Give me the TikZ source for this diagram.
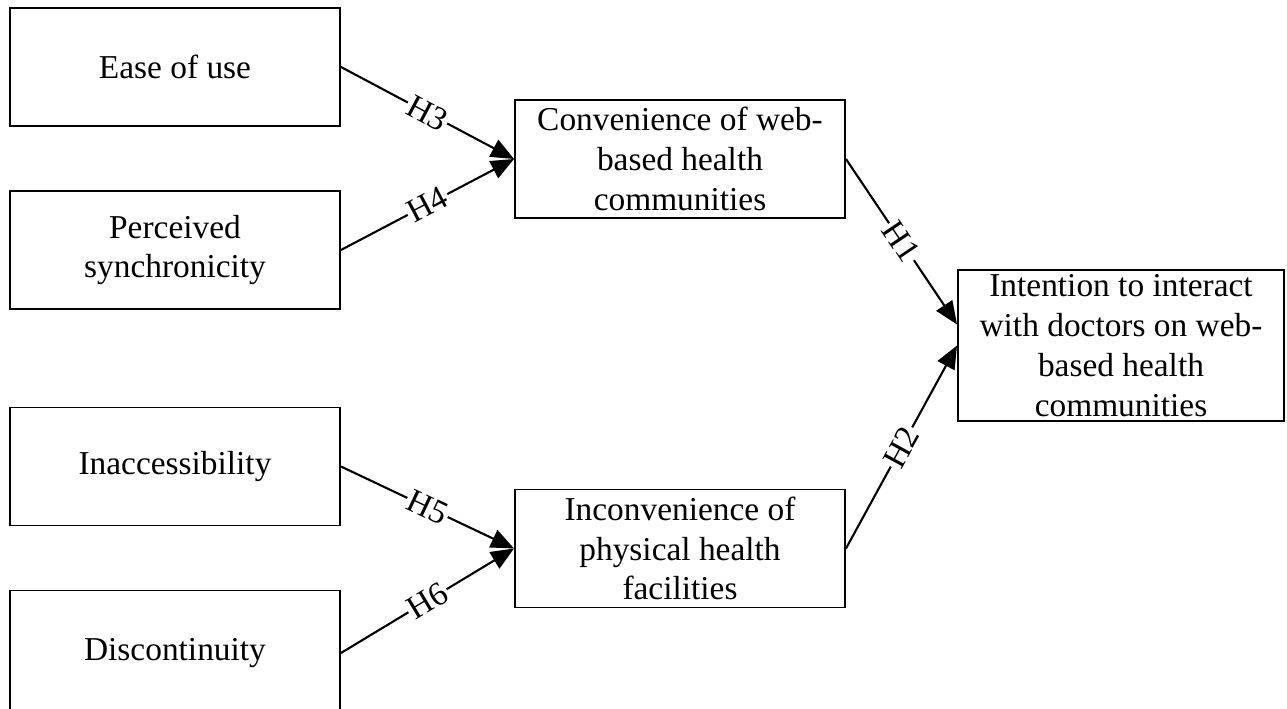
\documentclass[tikz,border=0pt]{standalone}
\usepackage{fontspec}
\setmainfont{Liberation Serif}
\usetikzlibrary{arrows.meta}

\begin{document}
\begin{tikzpicture}[
    box/.style={draw, line width=1.1pt, minimum width=6.6cm, minimum height=2.36cm, align=center, inner sep=2pt, font=\fontsize{19}{22.7}\selectfont},
    hyp/.style={fill=white, inner sep=1pt, sloped, font=\fontsize{19}{22.7}\selectfont},
    link/.style={line width=1.2pt, -{Triangle[length=0.46cm, width=0.38cm]}},
]
\useasboundingbox (0,0) rectangle (25.74,14.18);

% antecedents
\node[box] (ease) at (3.5,12.84) {Ease of use};
\node[box] (sync) at (3.5,9.18) {Perceived\\synchronicity};
\node[box] (inacc) at (3.5,4.85) {Inaccessibility};
\node[box, minimum height=2.5cm] (discont) at (3.5,1.12) {Discontinuity};

% mediators
\node[box] (conv) at (13.6,11.0) {Convenience of web-\\based health\\communities};
\node[box] (inconv) at (13.6,3.21) {Inconvenience of\\physical health\\facilities};

% outcome
\node[box, minimum width=6.52cm, minimum height=3.02cm] (intent) at (22.42,7.27) {Intention to interact\\with doctors on web-\\based health\\communities};

% hypotheses
\draw[link] (ease.east) -- node[hyp] {H3} (conv.west);
\draw[link] (sync.east) -- node[hyp] {H4} (conv.west);
\draw[link] (inacc.east) -- node[hyp] {H5} (inconv.west);
\draw[link] (discont.east) -- node[hyp] {H6} (inconv.west);
\draw[link] (conv.east) -- node[hyp] {H1} ([yshift=0.42cm]intent.west);
\draw[link] (inconv.east) -- node[hyp] {H2} (intent.west);

\end{tikzpicture}
\end{document}
